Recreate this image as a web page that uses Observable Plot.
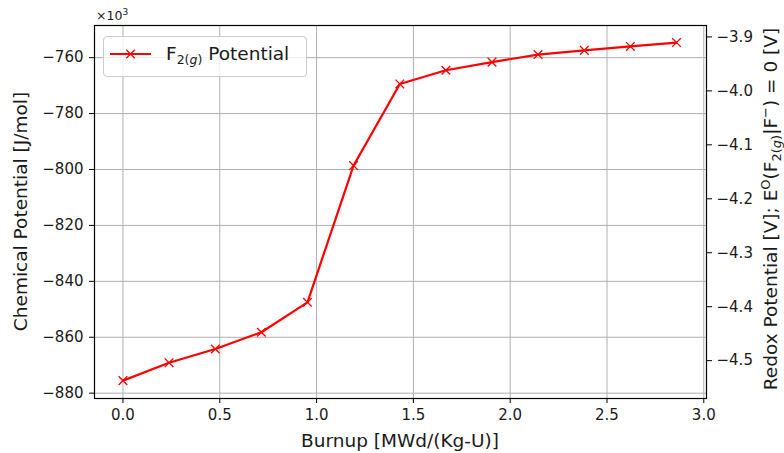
<!DOCTYPE html>
<html><head><meta charset="utf-8">
<script src="https://cdn.jsdelivr.net/npm/d3@7"></script>
<script src="https://cdn.jsdelivr.net/npm/@observablehq/plot@0.6"></script>
<style>body{margin:0;background:#fff;} svg{display:block}</style>
</head><body><div id="chart"></div>
<script>
// Data
const burnup = [0, 0.238, 0.477, 0.715, 0.953, 1.191, 1.430, 1.668, 1.906, 2.144, 2.383, 2.621, 2.859];
const chemPotential = [-875.5, -869.1, -864.2, -858.2, -847.5, -798.6, -769.4, -764.5, -761.6, -758.9, -757.4, -756.0, -754.6]; // ×10^3 J/mol
const xTicks = [0, 0.5, 1.0, 1.5, 2.0, 2.5, 3.0];
const yTicks = [-880, -860, -840, -820, -800, -780, -760];
const redoxTicks = [-4.5, -4.4, -4.3, -4.2, -4.1, -4.0, -3.9];
const FARADAY = 96.485; // kJ/(mol·V)
const NE = 2;

const data = burnup.map((b, i) => ({burnup: b, mu: chemPotential[i]}));
const minus = s => String(s).replace("-", "\u2212");

const W = 784, H = 453, ML = 94, MR = 78, MT = 25, MB = 55;
const TXT = "#1a1a1a";
const chart = Plot.plot({
  width: W, height: H, marginLeft: ML, marginRight: MR, marginTop: MT, marginBottom: MB,
  style: {fontFamily: "DejaVu Sans, sans-serif", fontSize: "15px", color: TXT, background: "#fff", overflow: "visible"},
  x: {domain: [-0.147, 3.014]},
  y: {domain: [-881.9, -748.5]},
  marks: [
    Plot.gridX(xTicks, {stroke: "#b0b0b0", strokeOpacity: 1, strokeWidth: 1}),
    Plot.gridY(yTicks, {stroke: "#b0b0b0", strokeOpacity: 1, strokeWidth: 1}),
    Plot.line(data, {x: "burnup", y: "mu", stroke: "red", strokeWidth: 2.2}),
    Plot.dot(data, {x: "burnup", y: "mu", symbol: "times", r: 4, stroke: "red", strokeWidth: 1.3}),
    Plot.frame({stroke: "#000", strokeWidth: 1.2}),
    Plot.axisX(xTicks, {tickSize: 5, tickPadding: 6, tickFormat: d => d.toFixed(1), label: null, fontSize: 15, stroke: "#000"}),
    Plot.axisY(yTicks, {anchor: "left", tickSize: 5, tickPadding: 6, tickFormat: d => minus(d), label: null, fontSize: 15, stroke: "#000"}),
    Plot.axisY(redoxTicks.map(e => e * NE * FARADAY), {anchor: "right", tickSize: 5, tickPadding: 5,
      tickFormat: d => minus((d / (NE * FARADAY)).toFixed(1)), label: null, fontSize: 15, stroke: "#000"})
  ]
});
document.getElementById("chart").appendChild(chart);

const svg = d3.select(chart);
const FS = 18.5;
function rich(x, y, rot, parts, anchor = "middle", size = FS) {
  const t = svg.append("text")
    .attr("transform", `translate(${x},${y})` + (rot ? ` rotate(${rot})` : ""))
    .attr("text-anchor", anchor)
    .attr("font-family", "DejaVu Sans, sans-serif")
    .attr("font-size", size)
    .attr("fill", TXT);
  let cur = 0;
  for (const p of parts) {
    const shift = p.shift || 0;
    const s = t.append("tspan").text(p.t).attr("dy", shift - cur);
    cur = shift;
    if (p.size) s.attr("font-size", p.size);
    if (p.italic) s.attr("font-style", "italic");
  }
  return t;
}
// axis labels
rich(27, (MT + H - MB) / 2, -90, [{t: "Chemical Potential [J/mol]"}]);
rich((ML + W - MR) / 2, 447, 0, [{t: "Burnup [MWd/(Kg-U)]"}]);
rich(777, 209, -90, [
  {t: "Redox Potential [V]; E"},
  {t: "O", size: 13, shift: -7},
  {t: "(F"},
  {t: "2(", size: 13, shift: 3.5},
  {t: "g", size: 13, shift: 3.5, italic: true},
  {t: ")", size: 13, shift: 3.5},
  {t: "|F"},
  {t: "\u2212", size: 13, shift: -7},
  {t: ") = 0 [V]"}
]);
// offset text
rich(96, 19.5, 0, [{t: "\u00d710"}, {t: "3", size: 9, shift: -5}], "start", 12.5);

// legend
const lg = svg.append("g");
lg.append("rect").attr("x", 103.5).attr("y", 36.5).attr("width", 203).attr("height", 40).attr("rx", 3.5)
  .attr("fill", "#fff").attr("fill-opacity", 0.8).attr("stroke", "#cccccc").attr("stroke-width", 1);
lg.append("line").attr("x1", 110).attr("x2", 151).attr("y1", 54).attr("y2", 54).attr("stroke", "red").attr("stroke-width", 2.2);
lg.append("path").attr("d", "M126.3,49.8L134.7,58.2M126.3,58.2L134.7,49.8").attr("stroke", "red").attr("stroke-width", 1.3);
rich(166, 60, 0, [
  {t: "F"},
  {t: "2(", size: 12.5, shift: 4},
  {t: "g", size: 12.5, shift: 4, italic: true},
  {t: ")", size: 12.5, shift: 4},
  {t: " Potential"}
], "start", 18.5);
</script>
</body></html>
